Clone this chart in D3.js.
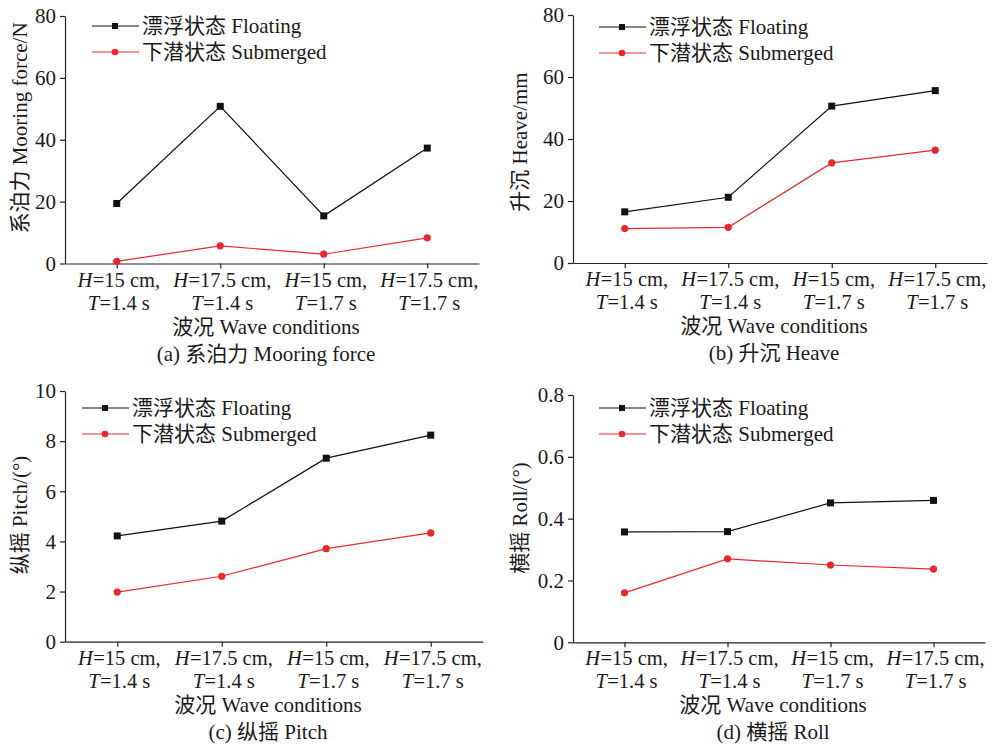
<!DOCTYPE html>
<html>
<head>
<meta charset="utf-8">
<script src="https://cdn.jsdelivr.net/npm/d3@7"></script>
<style>
  html, body { margin: 0; padding: 0; background: #fff; }
  svg { display: block; }
  text { font-family: "Liberation Serif", "Times New Roman", "Noto Sans CJK SC", serif; fill: #1a1a1a; }
</style>
</head>
<body>
<svg id="chart" width="996" height="747"></svg>
<script>
// ---------- data ----------
const catH = ["15", "17.5", "15", "17.5"];        // H values (cm)
const catT = ["1.4", "1.4", "1.7", "1.7"];        // T values (s)

const mooringFloating   = [19.4, 50.8, 15.4, 37.3];
const mooringSubmerged  = [0.7, 5.7, 3.0, 8.3];
const heaveFloating     = [16.5, 21.2, 50.6, 55.6];
const heaveSubmerged    = [11.1, 11.5, 32.3, 36.4];
const pitchFloating     = [4.22, 4.81, 7.32, 8.24];
const pitchSubmerged    = [1.98, 2.61, 3.71, 4.34];
const rollFloating      = [0.357, 0.358, 0.451, 0.459];
const rollSubmerged     = [0.160, 0.270, 0.250, 0.237];

const mooringTicks = [0, 20, 40, 60, 80];
const heaveTicks   = [0, 20, 40, 60, 80];
const pitchTicks   = [0, 2, 4, 6, 8, 10];
const rollTicks    = [0, 0.2, 0.4, 0.6, 0.8];
const rollTickLabels = ["0", "0.2", "0.4", "0.6", "0.8"];

const seriesNames = ["漂浮状态 Floating", "下潜状态 Submerged"];
const xTitle = "波况 Wave conditions";

// ---------- layout ----------
const FS = 21;
const FS_TICKX = 20.5;
const BLACK = "#111", RED = "#e8282d";
const svg = d3.select("#chart");

const panels = [
  { x0: 65,  x1: 479, y0: 16,  y1: 263.5, max: 80,  ticks: mooringTicks, fmt: d => d,
    fl: mooringFloating, sb: mooringSubmerged, ytitle: "系泊力 Mooring force/N", ytx: 20, yty: 128,
    cap: "(a) 系泊力 Mooring force", legX: 92, legY: 26 },
  { x0: 573, x1: 987, y0: 15,  y1: 263,  max: 80,  ticks: heaveTicks, fmt: d => d,
    fl: heaveFloating, sb: heaveSubmerged, ytitle: "升沉 Heave/mm", ytx: 520, yty: 142,
    cap: "(b) 升沉 Heave", legX: 599, legY: 27 },
  { x0: 65,  x1: 483, y0: 391, y1: 641.7, max: 10, ticks: pitchTicks, fmt: d => d,
    fl: pitchFloating, sb: pitchSubmerged, ytitle: "纵摇 Pitch/(°)", ytx: 20, yty: 515,
    cap: "(c) 纵摇 Pitch", legX: 82, legY: 408 },
  { x0: 573, x1: 985, y0: 395, y1: 642.3, max: 0.8, ticks: rollTicks, fmt: (d, i) => rollTickLabels[i],
    fl: rollFloating, sb: rollSubmerged, ytitle: "横摇 Roll/(°)", ytx: 520, yty: 518,
    cap: "(d) 横摇 Roll", legX: 599, legY: 408 }
];

panels.forEach(p => {
  const g = svg.append("g");
  const idx = d3.range(catH.length);
  const x = d3.scalePoint().domain(idx).range([p.x0, p.x1]).padding(0.5);
  const y = d3.scaleLinear().domain([0, p.max]).range([p.y1, p.y0]);

  // y axis
  const ya = g.append("g").attr("transform", `translate(${p.x0},0)`)
    .call(d3.axisLeft(y).tickValues(p.ticks).tickFormat(p.fmt).tickSize(5).tickSizeOuter(0).tickPadding(4));
  ya.select(".domain").attr("stroke", "#222").attr("stroke-width", 1.2);
  ya.selectAll(".tick line").attr("stroke", "#222").attr("stroke-width", 1.2);
  ya.selectAll(".tick text").style("font-size", FS + "px").style("font-family", "Liberation Serif").attr("fill", "#1a1a1a");

  // x axis
  const xa = g.append("g").attr("transform", `translate(0,${p.y1})`)
    .call(d3.axisBottom(x).tickFormat("").tickSize(5).tickSizeOuter(0));
  xa.select(".domain").attr("stroke", "#222").attr("stroke-width", 1.2);
  xa.selectAll(".tick line").attr("stroke", "#222").attr("stroke-width", 1.2);

  // x tick labels (two lines, italic variables)
  idx.forEach(i => {
    const cx = x(i) + 2;
    const t1 = g.append("text").attr("x", cx).attr("y", p.y1 + 23).attr("text-anchor", "middle").style("font-size", FS_TICKX + "px");
    t1.append("tspan").attr("font-style", "italic").text("H");
    t1.append("tspan").attr("dx", 0.5).text("=" + catH[i] + " cm,");
    const t2 = g.append("text").attr("x", cx).attr("y", p.y1 + 46).attr("text-anchor", "middle").style("font-size", FS_TICKX + "px");
    t2.append("tspan").attr("font-style", "italic").text("T");
    t2.append("tspan").attr("dx", 0.5).text("=" + catT[i] + " s");
  });

  const mid = (p.x0 + p.x1) / 2 - 6;
  g.append("text").attr("x", mid).attr("y", p.y1 + 70).attr("text-anchor", "middle")
    .style("font-size", FS + "px").text(xTitle);
  g.append("text").attr("x", mid).attr("y", p.y1 + 97).attr("text-anchor", "middle")
    .style("font-size", FS + "px").text(p.cap);

  // y title
  g.append("text").attr("transform", `translate(${p.ytx + 7},${p.yty}) rotate(-90)`)
    .attr("text-anchor", "middle").style("font-size", FS + "px").text(p.ytitle);

  // lines
  const line = d3.line().x((d, i) => x(i)).y(d => y(d));
  g.append("path").datum(p.fl).attr("d", line).attr("fill", "none").attr("stroke", BLACK).attr("stroke-width", 1.2);
  g.append("path").datum(p.sb).attr("d", line).attr("fill", "none").attr("stroke", RED).attr("stroke-width", 1.2);
  g.selectAll("rect.m").data(p.fl).enter().append("rect")
    .attr("x", (d, i) => x(i) - 3.5).attr("y", d => y(d) - 3.5).attr("width", 7).attr("height", 7).attr("fill", BLACK);
  g.selectAll("circle.m").data(p.sb).enter().append("circle")
    .attr("cx", (d, i) => x(i)).attr("cy", d => y(d)).attr("r", 3.6).attr("fill", RED);

  // legend
  const lg = g.append("g");
  [0, 1].forEach(k => {
    const ly = p.legY + k * 26;
    const col = k === 0 ? BLACK : RED;
    lg.append("line").attr("x1", p.legX).attr("x2", p.legX + 47).attr("y1", ly).attr("y2", ly)
      .attr("stroke", col).attr("stroke-width", 1.2);
    if (k === 0) {
      lg.append("rect").attr("x", p.legX + 23 - 3).attr("y", ly - 3).attr("width", 6).attr("height", 6).attr("fill", col);
    } else {
      lg.append("circle").attr("cx", p.legX + 23).attr("cy", ly).attr("r", 3.3).attr("fill", col);
    }
    lg.append("text").attr("x", p.legX + 50).attr("y", ly + 7).style("font-size", FS + "px").text(seriesNames[k]);
  });
});
</script>
</body>
</html>
